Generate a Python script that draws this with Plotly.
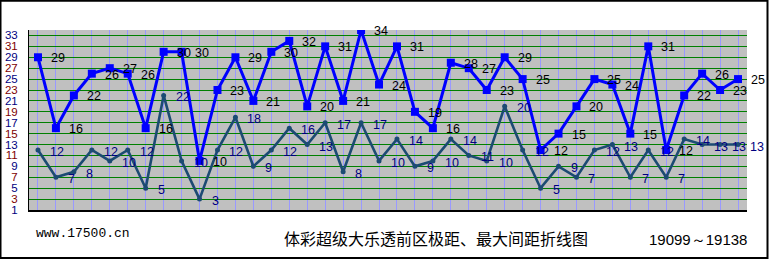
import plotly.graph_objects as go

issues = [str(19099 + i) for i in range(40)]
range_vals = [29, 16, 22, 26, 27, 26, 16, 30, 30, 10,
              23, 29, 21, 30, 32, 20, 31, 21, 34, 24,
              31, 19, 16, 28, 27, 23, 29, 25, 12, 15,
              20, 25, 24, 15, 31, 12, 22, 26, 23, 25]
gap_vals = [12, 7, 8, 12, 10, 12, 5, 22, 10, 3,
            12, 18, 9, 12, 16, 13, 17, 8, 17, 10,
            14, 9, 10, 14, 11, 10, 20, 12, 5, 9,
            7, 12, 13, 7, 12, 7, 14, 13, 13, 13]
y_ticks = list(range(1, 34, 2))

W, H = 769, 259
L, R, T, B = 29, 22, 30, 49
pw, ph = W - L - R, H - T - B

def px_x(p):
    return (p - L) / pw

def px_y(p):
    return (H - B - p) / ph

xs = list(range(len(issues)))

fig = go.Figure()
fig.add_trace(go.Scatter(
    x=xs, y=gap_vals, mode="lines+markers",
    line=dict(color="#1c4b73", width=2.6),
    marker=dict(color="#1c4b73", size=5, symbol="circle"),
    hoverinfo="skip", showlegend=False))
fig.add_trace(go.Scatter(
    x=xs, y=range_vals, mode="lines+markers",
    line=dict(color="#0000ff", width=3),
    marker=dict(color="#0000ff", size=8, symbol="square"),
    hoverinfo="skip", showlegend=False))

ann = []
for i, v in enumerate(gap_vals):
    ann.append(dict(x=i, y=v, text=str(v), showarrow=False, xanchor="left", yanchor="middle",
                    xshift=10, yshift=-2, font=dict(family="Liberation Sans", size=12.5, color="#000080")))
for i, v in enumerate(range_vals):
    ann.append(dict(x=i, y=v, text=str(v), showarrow=False, xanchor="left", yanchor="middle",
                    xshift=11, yshift=-1, font=dict(family="Liberation Sans", size=12.5, color="#000000")))

ann.append(dict(xref="paper", yref="paper", x=px_x(34), y=px_y(233), text="www.17500.cn",
                showarrow=False, xanchor="left", yanchor="middle",
                font=dict(family="Liberation Mono", size=13, color="#000000")))
ann.append(dict(xref="paper", yref="paper", x=px_x(436), y=px_y(238), text="体彩超级大乐透前区极距、最大间距折线图",
                showarrow=False, xanchor="center", yanchor="middle",
                font=dict(family="Noto Sans CJK SC", size=16, color="#000000")))
ann.append(dict(xref="paper", yref="paper", x=px_x(749), y=px_y(239), text="19099～19138",
                showarrow=False, xanchor="right", yanchor="middle",
                font=dict(family="Liberation Sans", size=15, color="#000000")))

tick_text = []
for v in y_ticks:
    c = "#000080" if v % 4 == 1 else "#800000"
    tick_text.append(f"<span style='color:{c}'>{v}</span>")

fig.update_layout(
    width=W, height=H,
    margin=dict(l=L, r=R, t=T, b=B, pad=0, autoexpand=False),
    paper_bgcolor="#ffffff", plot_bgcolor="#c0c0c0",
    annotations=ann,
    shapes=[dict(type="rect", xref="paper", yref="paper",
                 x0=px_x(0.5), x1=px_x(767.5), y0=px_y(258), y1=px_y(0.8),
                 line=dict(color="#000000", width=2), fillcolor="rgba(0,0,0,0)", layer="above")],
    xaxis=dict(range=[-0.5, len(issues) - 0.5], tickvals=xs, showticklabels=False,
               showgrid=True, gridcolor="#9999ff", gridwidth=1, zeroline=False,
               showline=True, linecolor="#000000", linewidth=2, ticks="", automargin=False),
    yaxis=dict(range=[1, 34], tickvals=y_ticks, ticktext=tick_text,
               showgrid=True, gridcolor="#008000", gridwidth=1, zeroline=False,
               showline=True, linecolor="#000000", linewidth=1,
               ticks="", ticklabelstandoff=8, automargin=False,
               tickfont=dict(family="Liberation Sans", size=11.5)),
)

fig.write_html("out.html")
